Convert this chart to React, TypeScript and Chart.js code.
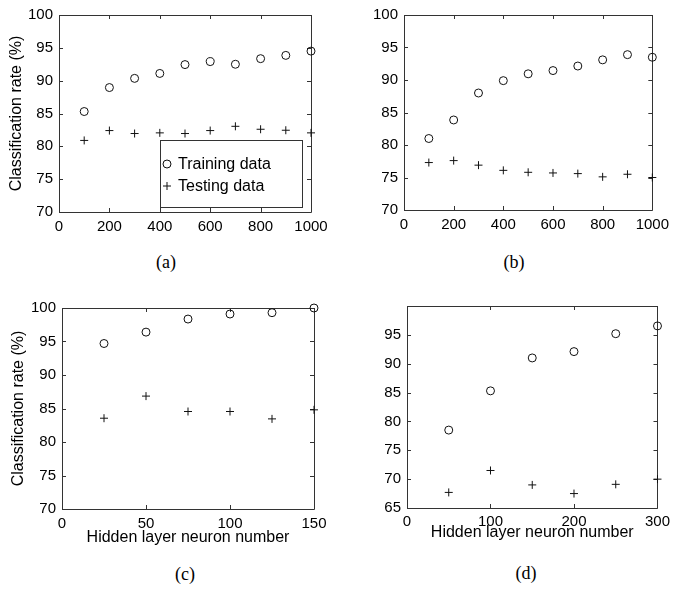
import React, { useEffect, useRef } from 'react';
import { Chart, registerables } from 'chart.js';

Chart.register(...registerables);

// ---------- data ----------
const neuronsAB = [100, 200, 300, 400, 500, 600, 700, 800, 900, 1000];
const trainA = [85.3, 88.95, 90.35, 91.1, 92.45, 92.9, 92.5, 93.35, 93.85, 94.5];
const testA = [80.9, 82.4, 81.95, 82.05, 81.95, 82.4, 83.05, 82.6, 82.45, 82.05];

const trainB = [81.0, 83.85, 88.0, 89.9, 90.95, 91.45, 92.15, 93.1, 93.9, 93.5];
const testB = [77.3, 77.6, 76.9, 76.1, 75.8, 75.7, 75.6, 75.1, 75.5, 75.0];

const neuronsC = [25, 50, 75, 100, 125, 150];
const trainC = [94.7, 96.4, 98.35, 99.1, 99.3, 100.0];
const testC = [83.55, 86.85, 84.55, 84.55, 83.45, 84.8];

const neuronsD = [50, 100, 150, 200, 250, 300];
const trainD = [78.5, 85.3, 91.0, 92.1, 95.2, 96.55];
const testD = [67.7, 71.5, 69.0, 67.5, 69.1, 70.0];

const yTitle = 'Classification rate (%)';
const xTitle = 'Hidden layer neuron number';
const legendLabels = ['Training data', 'Testing data'];
const captions = ['(a)', '(b)', '(c)', '(d)'];

const SANS = '"Liberation Sans", Arial, Helvetica, sans-serif';
const SERIF = '"Liberation Serif", "Times New Roman", serif';
const INK = '#111';

// ---------- plugins ----------
const frameTicks = {
  id: 'frameTicks',
  beforeDatasetsDraw(chart: any) {
    const { ctx, chartArea: a, scales } = chart;
    const L = 4;
    ctx.save();
    ctx.strokeStyle = '#333';
    ctx.lineWidth = 1;
    ctx.beginPath();
    ctx.rect(Math.round(a.left) + 0.5, Math.round(a.top) + 0.5, Math.round(a.right - a.left), Math.round(a.bottom - a.top));
    for (const t of scales.x.ticks) {
      const px = Math.round(scales.x.getPixelForValue(t.value)) + 0.5;
      ctx.moveTo(px, a.bottom);
      ctx.lineTo(px, a.bottom - L);
      ctx.moveTo(px, a.top);
      ctx.lineTo(px, a.top + L);
    }
    for (const t of scales.y.ticks) {
      const py = Math.round(scales.y.getPixelForValue(t.value)) + 0.5;
      ctx.moveTo(a.left, py);
      ctx.lineTo(a.left + L, py);
      ctx.moveTo(a.right, py);
      ctx.lineTo(a.right - L, py);
    }
    ctx.stroke();
    ctx.restore();
  },
};

const innerLegend = {
  id: 'innerLegend',
  afterDatasetsDraw(chart: any, _args: any, opts: any) {
    if (!opts || !opts.show) return;
    const { ctx } = chart;
    const { x, y, w, h } = opts.box;
    ctx.save();
    ctx.fillStyle = '#fff';
    ctx.fillRect(x, y, w, h);
    ctx.strokeStyle = '#333';
    ctx.lineWidth = 1;
    ctx.strokeRect(x + 0.5, y + 0.5, w, h);
    const rows = [y + 24, y + 46];
    chart.data.datasets.forEach((ds: any, i: number) => {
      const cy = rows[i];
      const cx = x + 7;
      ctx.strokeStyle = INK;
      ctx.lineWidth = 1;
      ctx.beginPath();
      if (ds.pointStyle === 'circle') {
        ctx.arc(cx, cy, 4, 0, Math.PI * 2);
      } else {
        ctx.moveTo(cx - 4, cy);
        ctx.lineTo(cx + 4, cy);
        ctx.moveTo(cx, cy - 4);
        ctx.lineTo(cx, cy + 4);
      }
      ctx.stroke();
      ctx.fillStyle = '#000';
      ctx.font = `16px ${SANS}`;
      ctx.textBaseline = 'middle';
      ctx.textAlign = 'left';
      ctx.fillText(ds.label, x + 18, cy + 1);
    });
    ctx.restore();
  },
};

// ---------- panels ----------
type Panel = {
  left: number; top: number; w: number; h: number;
  area: { left: number; top: number; right: number; bottom: number };
  x: number[]; train: number[]; test: number[];
  xMin: number; xMax: number; xStep: number;
  yMin: number; yMax: number; hideTop?: boolean;
  showYTitle: boolean; yTitlePad: number;
  showXTitle: boolean; xTitlePad: number;
  xTickPad: number;
  legend: boolean;
};

const panels: Panel[] = [
  {
    left: 0, top: 0, w: 337, h: 250,
    area: { left: 59, top: 12, right: 311, bottom: 212 },
    x: neuronsAB, train: trainA, test: testA,
    xMin: 0, xMax: 1000, xStep: 200, yMin: 70, yMax: 100,
    showYTitle: true, yTitlePad: 7, showXTitle: false, xTitlePad: 0, xTickPad: 6, legend: true,
  },
  {
    left: 337, top: 0, w: 338, h: 250,
    area: { left: 67, top: 12, right: 320, bottom: 210 },
    x: neuronsAB, train: trainB, test: testB,
    xMin: 0, xMax: 1000, xStep: 200, yMin: 70, yMax: 100,
    showYTitle: false, yTitlePad: 0, showXTitle: false, xTitlePad: 0, xTickPad: 6, legend: false,
  },
  {
    left: 0, top: 290, w: 337, h: 260,
    area: { left: 62, top: 18, right: 314, bottom: 219 },
    x: neuronsC, train: trainC, test: testC,
    xMin: 0, xMax: 150, xStep: 50, yMin: 70, yMax: 100,
    showYTitle: true, yTitlePad: 9, showXTitle: true, xTitlePad: 3, xTickPad: 6, legend: false,
  },
  {
    left: 337, top: 290, w: 338, h: 260,
    area: { left: 70, top: 16, right: 322, bottom: 218 },
    x: neuronsD, train: trainD, test: testD,
    xMin: 0, xMax: 300, xStep: 100, yMin: 65, yMax: 100, hideTop: true,
    showYTitle: false, yTitlePad: 0, showXTitle: true, xTitlePad: 8, xTickPad: 5, legend: false,
  },
];

const captionPos = [
  { x: 166, y: 262 },
  { x: 514, y: 262 },
  { x: 185, y: 574 },
  { x: 526, y: 573 },
];

function makeConfig(p: Panel): any {
  const tickFont = { family: SANS, size: 15 };
  const titleFont = { family: SANS, size: 16 };
  return {
    type: 'scatter',
    data: {
      datasets: [
        {
          label: legendLabels[0],
          data: p.x.map((x, i) => ({ x, y: p.train[i] })),
          pointStyle: 'circle',
          pointRadius: 4,
          borderColor: INK,
          backgroundColor: 'rgba(0,0,0,0)',
          borderWidth: 1,
          showLine: false,
          clip: false,
        },
        {
          label: legendLabels[1],
          data: p.x.map((x, i) => ({ x, y: p.test[i] })),
          pointStyle: 'cross',
          pointRadius: 4,
          borderColor: INK,
          backgroundColor: INK,
          borderWidth: 1,
          showLine: false,
          clip: false,
        },
      ],
    },
    options: {
      responsive: false,
      maintainAspectRatio: false,
      animation: false,
      events: [],
      layout: { padding: { top: p.area.top, right: p.w - p.area.right, left: 0, bottom: 0 } },
      plugins: {
        legend: { display: false },
        tooltip: { enabled: false },
        innerLegend: { show: p.legend, box: { x: 160, y: 140, w: 142, h: 67 } },
      },
      scales: {
        x: {
          type: 'linear',
          min: p.xMin,
          max: p.xMax,
          grid: { display: false, drawTicks: false },
          border: { display: false },
          ticks: {
            stepSize: p.xStep,
            font: tickFont,
            color: '#000',
            padding: p.xTickPad,
            maxRotation: 0,
            autoSkip: false,
            callback: (v: any) => String(v),
          },
          title: {
            display: p.showXTitle,
            text: xTitle,
            font: titleFont,
            color: '#000',
            padding: { top: 0, bottom: p.xTitlePad },
          },
          afterFit: (s: any) => { s.height = p.h - p.area.bottom; },
        },
        y: {
          type: 'linear',
          min: p.yMin,
          max: p.yMax,
          grid: { display: false, drawTicks: false },
          border: { display: false },
          ticks: {
            stepSize: 5,
            font: tickFont,
            color: '#000',
            padding: 6,
            callback: (v: any) => (p.hideTop && v === p.yMax ? '' : String(v)),
          },
          title: {
            display: p.showYTitle,
            text: yTitle,
            font: titleFont,
            color: '#000',
            padding: { top: p.yTitlePad, bottom: 0 },
          },
          afterFit: (s: any) => { s.width = p.area.left; },
        },
      },
    },
    plugins: [frameTicks, innerLegend],
  };
}

function PanelChart({ p }: { p: Panel }) {
  const ref = useRef<HTMLCanvasElement | null>(null);
  useEffect(() => {
    if (!ref.current) return;
    const chart = new Chart(ref.current, makeConfig(p));
    return () => chart.destroy();
  }, [p]);
  return (
    <canvas
      ref={ref}
      width={p.w}
      height={p.h}
      style={{ position: 'absolute', left: p.left, top: p.top, width: p.w, height: p.h }}
    />
  );
}

export default function App() {
  return (
    <div style={{ position: 'absolute', left: 0, top: 0, width: 675, height: 591, background: '#fff', overflow: 'hidden' }}>
      {panels.map((p, i) => (
        <PanelChart key={i} p={p} />
      ))}
      {captions.map((c, i) => (
        <div
          key={c}
          style={{
            position: 'absolute',
            left: captionPos[i].x,
            top: captionPos[i].y,
            transform: 'translate(-50%, -50%)',
            fontFamily: SERIF,
            fontSize: 18,
            color: '#000',
            whiteSpace: 'nowrap',
          }}
        >
          {c}
        </div>
      ))}
    </div>
  );
}
